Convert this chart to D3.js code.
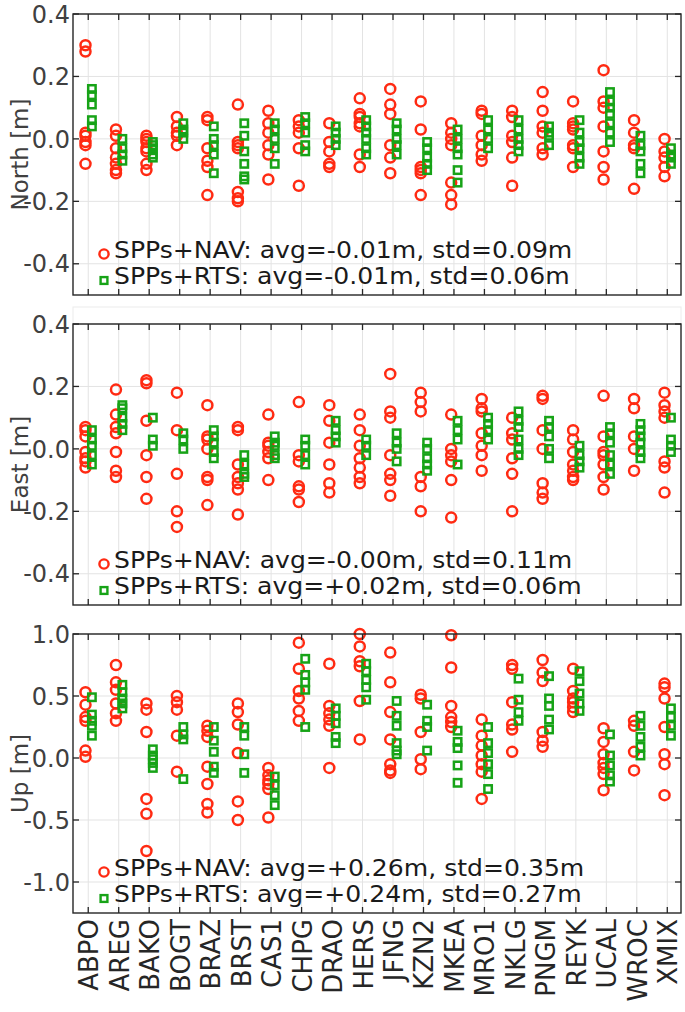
<!DOCTYPE html>
<html><head><meta charset="utf-8">
<script src="https://cdn.jsdelivr.net/npm/d3@7/dist/d3.min.js"></script>
<style>
html,body{margin:0;padding:0;background:#fff;}
svg{display:block;}
text{font-family:"DejaVu Sans",sans-serif;fill:#262626;}
</style></head>
<body>
<svg id="chart" width="685" height="1012"></svg>
<script>
const stations = ["ABPO","AREG","BAKO","BOGT","BRAZ","BRST","CAS1","CHPG","DRAO","HERS","JFNG","KZN2","MKEA","MRO1","NKLG","PNGM","REYK","UCAL","WROC","XMIX"];

const northNAV = [
 [0.30,0.28,0.02,0.01,-0.01,-0.02,-0.08],[0.03,0.01,-0.03,-0.06,-0.08,-0.10,-0.11],[0.01,0.00,-0.01,-0.03,-0.04,-0.08,-0.10],
 [0.07,0.04,0.02,0.01,-0.02],[0.07,0.06,-0.03,-0.07,-0.09,-0.18],[0.11,-0.01,-0.02,-0.03,-0.17,-0.19,-0.20],
 [0.09,0.05,0.02,-0.02,-0.05,-0.13],[0.06,0.04,0.02,-0.03,-0.15],[0.05,-0.01,-0.04,-0.08,-0.09],
 [0.13,0.08,0.07,0.05,0.04,-0.05,-0.09],[0.16,0.11,0.08,-0.02,-0.06,-0.11],[0.12,0.03,-0.09,-0.10,-0.11,-0.18],
 [0.05,0.02,0.00,-0.02,-0.14,-0.18,-0.21],[0.09,0.08,0.01,-0.02,-0.05,-0.07],[0.09,0.07,0.01,-0.01,-0.06,-0.15],
 [0.15,0.09,0.04,0.02,-0.03,-0.05],[0.12,0.05,0.04,0.03,-0.02,-0.03,-0.09],[0.22,0.12,0.10,0.04,-0.04,-0.09,-0.13],
 [0.06,0.02,-0.02,-0.03,-0.16],[0.00,-0.04,-0.06,-0.09,-0.12]];
const northRTS = [
 [0.16,0.14,0.11,0.06,0.04],[0.00,-0.03,-0.05,-0.07],[-0.01,-0.02,-0.03,-0.05,-0.06],
 [0.05,0.03,0.02,0.00],[0.04,0.00,-0.02,-0.05,-0.11],[0.05,0.01,-0.04,-0.08,-0.12,-0.13],
 [0.05,0.03,0.00,-0.03,-0.08],[0.07,0.05,0.02,-0.02,-0.04],[0.04,0.02,0.00,-0.02],
 [0.06,0.04,0.02,0.00,-0.03,-0.05],[0.05,0.03,0.00,-0.02,-0.05],[-0.01,-0.03,-0.06,-0.08,-0.10],
 [0.03,0.00,-0.03,-0.05,-0.10,-0.14],[0.06,0.03,0.00,-0.03],[0.06,0.03,0.00,-0.02,-0.04],
 [0.04,0.02,0.01,-0.02],[0.06,0.02,-0.01,-0.03,-0.06,-0.08],[0.15,0.12,0.10,0.08,0.05,0.02,-0.01],
 [0.01,-0.02,-0.04,-0.08,-0.11],[-0.03,-0.05,-0.06,-0.08]];

const eastNAV = [
 [0.07,0.06,0.04,-0.01,-0.03,-0.04,-0.06],[0.19,0.11,0.07,0.05,-0.01,-0.07,-0.09],[0.22,0.21,0.09,-0.02,-0.09,-0.16],
 [0.18,0.06,-0.08,-0.20,-0.25],[0.14,0.04,0.03,0.00,-0.09,-0.10,-0.18],[0.07,0.06,-0.05,-0.09,-0.11,-0.13,-0.21],
 [0.11,0.02,0.01,-0.01,-0.03,-0.10],[0.15,-0.02,-0.04,-0.12,-0.13,-0.17],[0.14,0.09,0.02,-0.05,-0.11,-0.14],
 [0.11,0.06,0.01,-0.03,-0.06,-0.09,-0.11],[0.24,0.12,0.10,-0.02,-0.08,-0.10,-0.15],[0.18,0.15,0.12,-0.09,-0.12,-0.20],
 [0.11,0.00,-0.02,-0.04,-0.10,-0.22],[0.16,0.13,0.12,0.05,0.01,-0.02,-0.07],[0.10,0.05,0.03,-0.03,-0.08,-0.20],
 [0.17,0.16,0.06,0.00,-0.11,-0.14,-0.16],[0.06,0.03,-0.01,-0.05,-0.07,-0.09,-0.10],[0.17,0.04,-0.01,-0.02,-0.05,-0.09,-0.13],
 [0.16,0.13,0.04,0.00,-0.07],[0.18,0.14,0.12,0.10,-0.04,-0.06,-0.14]];
const eastRTS = [
 [0.06,0.03,0.01,-0.02,-0.05],[0.14,0.13,0.10,0.08,0.06],[0.10,0.03,0.01],
 [0.05,0.03,0.00],[0.06,0.04,0.02,-0.01,-0.03],[-0.02,-0.05,-0.08,-0.09],
 [0.04,0.02,0.01,-0.02,-0.03],[0.03,0.01,-0.02,-0.05],[0.09,0.06,0.04,0.02],
 [0.03,0.01,-0.02],[0.05,0.02,0.00,-0.04],[0.02,0.00,-0.03,-0.05,-0.07],
 [0.09,0.06,0.03,-0.05],[0.10,0.08,0.06,0.03],[0.12,0.09,0.07,0.03,0.00,-0.02],
 [0.09,0.07,0.04,0.00,-0.03],[0.01,-0.02,-0.04,-0.06],[0.07,0.05,0.02,-0.02,-0.05,-0.08],
 [0.08,0.06,0.04,0.02,-0.01,-0.03],[0.10,0.03,0.01,-0.01]];

const upNAV = [
 [0.53,0.43,0.33,0.30,0.06,0.01],[0.75,0.61,0.55,0.44,0.36,0.30],[0.44,0.39,0.21,-0.33,-0.45,-0.75],
 [0.50,0.45,0.39,0.18,-0.11],[0.26,0.22,0.17,-0.07,-0.21,-0.37,-0.44],[0.44,0.37,0.27,0.04,-0.35,-0.50],
 [-0.08,-0.14,-0.18,-0.21,-0.25,-0.48],[0.93,0.72,0.54,0.48,0.38,0.30],[0.76,0.42,0.36,0.31,0.26,-0.08],
 [1.00,0.90,0.78,0.74,0.46,0.15],[0.85,0.61,0.37,0.15,-0.05,-0.10,-0.12],[0.51,0.48,0.21,-0.01,-0.09],
 [0.99,0.73,0.42,0.33,0.29,0.25],[0.31,0.18,0.10,0.02,-0.05,-0.11,-0.33],[0.75,0.72,0.45,0.27,0.23,0.05],
 [0.79,0.69,0.62,0.21,0.14,0.09],[0.72,0.54,0.48,0.45,0.41,0.37],[0.24,0.13,0.03,-0.04,-0.08,-0.13,-0.26],
 [0.30,0.26,0.05,-0.10],[0.60,0.57,0.48,0.25,0.03,-0.05,-0.30]];
const upRTS = [
 [0.49,0.35,0.30,0.26,0.18],[0.59,0.53,0.48,0.44,0.40],[0.07,0.02,-0.01,-0.04,-0.08],
 [0.25,0.19,0.15,-0.17],[0.25,0.14,0.05,-0.07,-0.12],[0.25,0.18,0.03,-0.12],
 [-0.15,-0.22,-0.30,-0.38],[0.80,0.67,0.61,0.55,0.25],[0.40,0.34,0.28,0.17,0.12],
 [0.76,0.70,0.63,0.57,0.47],[0.46,0.34,0.26,0.12,0.06,0.03],[0.43,0.30,0.25,0.06],
 [0.22,0.13,0.08,-0.06,-0.20],[0.25,0.12,0.04,-0.05,-0.13,-0.25],[0.64,0.47,0.37,0.30],
 [0.66,0.48,0.42,0.31,0.23],[0.70,0.62,0.52,0.44,0.38],[0.19,0.02,-0.06,-0.14,-0.19],
 [0.34,0.26,0.17,0.09,0.02],[0.40,0.33,0.26,0.18]];

const panelNames = ["North [m]","East [m]","Up [m]"];
const navAvg = ["-0.01","-0.00","+0.26"], navStd = ["0.09","0.11","0.35"];
const rtsAvg = ["-0.01","+0.02","+0.24"], rtsStd = ["0.06","0.06","0.27"];
const yTicksNE = [-0.4,-0.2,0,0.2,0.4];
const yTicksU = [-1.0,-0.5,0,0.5,1.0];

const RED = "#ff2a12", GREEN = "#17a317", AX = "#262626", GRID = "#e3e3e3";
const svg = d3.select("#chart");
const L = 73, R = 681;
const x = d3.scaleLinear().domain([0.5, 20.45]).range([L, R]);
const xi = stations.map((s,i)=>i+1);
const fmt = v => { const s = Math.abs(v).toFixed(1); return (v < -1e-9 ? "-" : "") + s; };

const panels = [
 {top:14, bottom:295, domain:[-0.5,0.4], ticks:yTicksNE, nav:northNAV, rts:northRTS},
 {top:324, bottom:605, domain:[-0.5,0.4], ticks:yTicksNE, nav:eastNAV, rts:eastRTS, faint:true},
 {top:634, bottom:913, domain:[-1.25,1.0], ticks:yTicksU, nav:upNAV, rts:upRTS}
];

panels.forEach((p,pi)=>{
  const y = d3.scaleLinear().domain(p.domain).range([p.bottom, p.top]);
  const g = svg.append("g");
  if (p.faint) {
    g.append("rect").attr("x",L).attr("y",p.top-17).attr("width",R-L).attr("height",17)
      .attr("fill","none").attr("stroke","#ececec").attr("stroke-width",1);
  }
  g.selectAll(".vg").data(xi).join("line")
    .attr("x1",d=>x(d)).attr("x2",d=>x(d)).attr("y1",p.top).attr("y2",p.bottom)
    .attr("stroke",GRID).attr("stroke-width",1);
  g.selectAll(".hg").data(p.ticks).join("line")
    .attr("x1",L).attr("x2",R).attr("y1",d=>y(d)).attr("y2",d=>y(d))
    .attr("stroke",GRID).attr("stroke-width",1);
  const navPts = [], rtsPts = [];
  p.nav.forEach((arr,i)=>arr.forEach(v=>navPts.push([i+1,v])));
  p.rts.forEach((arr,i)=>arr.forEach(v=>rtsPts.push([i+1,v])));
  g.selectAll(".nav").data(navPts).join("circle")
    .attr("cx",d=>x(d[0]-0.09)).attr("cy",d=>y(d[1])).attr("r",5)
    .attr("fill","none").attr("stroke",RED).attr("stroke-width",2.5);
  g.selectAll(".rts").data(rtsPts).join("rect")
    .attr("x",d=>x(d[0]+0.12)-3.7).attr("y",d=>y(d[1])-3.7).attr("width",7.4).attr("height",7.4)
    .attr("fill","none").attr("stroke",GREEN).attr("stroke-width",2.5);
  g.append("rect").attr("x",L).attr("y",p.top).attr("width",R-L).attr("height",p.bottom-p.top)
    .attr("fill","none").attr("stroke",AX).attr("stroke-width",1.4);
  const tl = 6;
  g.selectAll(".tb").data(xi).join("line")
    .attr("x1",d=>x(d)).attr("x2",d=>x(d)).attr("y1",p.bottom).attr("y2",p.bottom-tl)
    .attr("stroke",AX).attr("stroke-width",1.3);
  g.selectAll(".tt").data(xi).join("line")
    .attr("x1",d=>x(d)).attr("x2",d=>x(d)).attr("y1",p.top).attr("y2",p.top+tl)
    .attr("stroke",AX).attr("stroke-width",1.3);
  g.selectAll(".tlft").data(p.ticks).join("line")
    .attr("x1",L).attr("x2",L+tl).attr("y1",d=>y(d)).attr("y2",d=>y(d))
    .attr("stroke",AX).attr("stroke-width",1.3);
  g.selectAll(".trt").data(p.ticks).join("line")
    .attr("x1",R).attr("x2",R-tl).attr("y1",d=>y(d)).attr("y2",d=>y(d))
    .attr("stroke",AX).attr("stroke-width",1.3);
  g.selectAll(".yl").data(p.ticks).join("text")
    .attr("x",L-3).attr("y",d=>y(d)).attr("dy","0.36em")
    .attr("text-anchor","end").style("font-size","24px").style("fill","#404040")
    .text(fmt);
  g.append("text")
    .attr("transform",`translate(28,${(p.top+p.bottom)/2}) rotate(-90)`)
    .attr("text-anchor","middle").style("font-size","23px").style("fill","#404040")
    .text(panelNames[pi]);
  // legend
  const b1 = p.bottom-37.5, b2 = p.bottom-11;
  const lg = svg.append("g");
  lg.append("circle").attr("cx",104).attr("cy",p.bottom-41).attr("r",4.6)
    .attr("fill","none").attr("stroke",RED).attr("stroke-width",2.4);
  lg.append("rect").attr("x",104-3.4).attr("y",p.bottom-14.5-3.4).attr("width",6.8).attr("height",6.8)
    .attr("fill","none").attr("stroke",GREEN).attr("stroke-width",2.4);
  [[b1,`SPPs+NAV: avg=${navAvg[pi]}m, std=${navStd[pi]}m`],[b2,`SPPs+RTS: avg=${rtsAvg[pi]}m, std=${rtsStd[pi]}m`]]
   .forEach(([b,t])=>{
    const tx = lg.append("text").attr("x",114).attr("y",b).style("font-size","22.5px").style("fill","#1a1a1a").text(t);
    const w = tx.node().getComputedTextLength();
    tx.attr("textLength", w*1.115).attr("lengthAdjust","spacingAndGlyphs");
  });
});

const last = panels[2];
svg.append("g").selectAll("text").data(stations).join("text")
  .attr("transform",(d,i)=>`translate(${x(i+1)+10},${last.bottom+6}) rotate(-90)`)
  .attr("text-anchor","end").style("font-size","26px").style("fill","#262626")
  .text(d=>d);
</script>
</body></html>
